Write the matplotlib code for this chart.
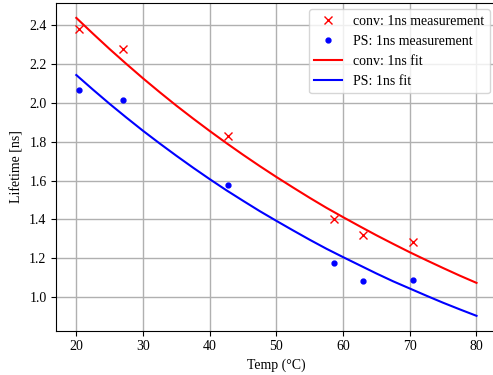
import numpy as np
import matplotlib
matplotlib.use('Agg')
import matplotlib.pyplot as plt

plt.rcParams['font.family'] = ['Liberation Serif', 'DejaVu Serif']
plt.rcParams['font.size'] = 10

# Measured lifetimes
temp_meas = [20.4, 27.0, 42.7, 58.6, 63.0, 70.5]
conv_meas = [2.375, 2.272, 1.826, 1.404, 1.323, 1.286]
ps_meas = [2.064, 2.013, 1.575, 1.175, 1.085, 1.092]

# Fitted curves, sampled every 2.5 degrees
temp_fit = [20, 22.5, 25, 27.5, 30, 32.5, 35, 37.5, 40, 42.5, 45, 47.5, 50,
            52.5, 55, 57.5, 60, 62.5, 65, 67.5, 70, 72.5, 75, 77.5, 80]
conv_fit = [2.434, 2.353, 2.274, 2.198, 2.124, 2.053, 1.984, 1.918, 1.854, 1.792,
            1.732, 1.674, 1.618, 1.564, 1.511, 1.460, 1.412, 1.365, 1.319, 1.275,
            1.232, 1.191, 1.151, 1.112, 1.075]
ps_fit = [2.141, 2.066, 1.993, 1.923, 1.855, 1.790, 1.727, 1.666, 1.607, 1.550,
          1.496, 1.443, 1.393, 1.344, 1.296, 1.250, 1.207, 1.165, 1.123, 1.083,
          1.046, 1.009, 0.973, 0.939, 0.906]

fig = plt.figure(figsize=(4.93, 3.75), dpi=100)
ax = fig.add_axes([0.1142, 0.1181, 0.8929, 0.8739])

ax.plot(temp_meas, conv_meas, 'x', color='red', markersize=6, label='conv: 1ns measurement')
ax.plot(temp_meas, ps_meas, 'o', color='blue', markersize=3.5, label='PS: 1ns measurement')
ax.plot(temp_fit, conv_fit, '-', color='red', linewidth=1.5, label='conv: 1ns fit')
ax.plot(temp_fit, ps_fit, '-', color='blue', linewidth=1.5, label='PS: 1ns fit')

ax.set_xticks([20, 30, 40, 50, 60, 70, 80])
ax.set_yticks([1.0, 1.2, 1.4, 1.6, 1.8, 2.0, 2.2, 2.4])
ax.set_xlabel('Temp (°C)')
ax.set_ylabel('Lifetime [ns]')
ax.grid(True, color='#b0b0b0', linewidth=1)
ax.set_axisbelow(True)
ax.legend(loc='upper right', bbox_to_anchor=(0.994, 0.975),
          bbox_transform=fig.transFigure, borderaxespad=0)

fig.savefig('out.png', dpi=100)
